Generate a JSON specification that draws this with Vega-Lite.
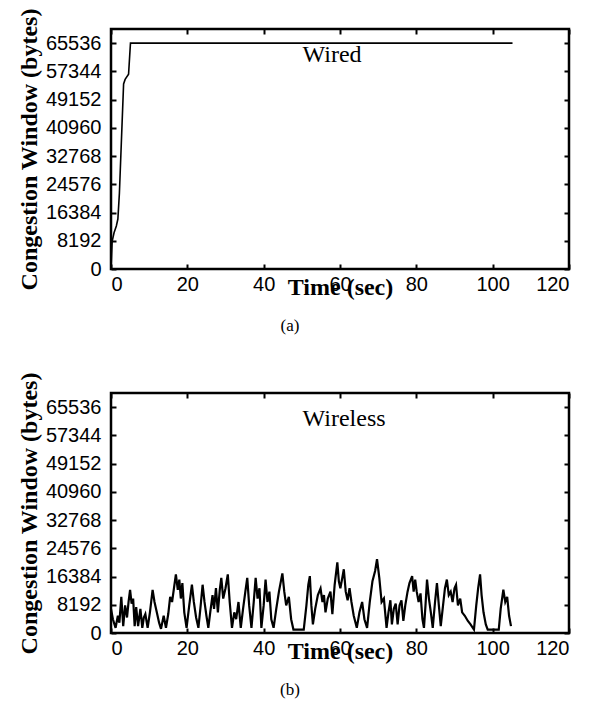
{
  "$schema": "https://vega.github.io/schema/vega-lite/v6.json",
  "background": "white",
  "padding": {"left": 16, "top": 6, "right": 5, "bottom": 5},
  "bounds": "flush",
  "spacing": 124,
  "config": {
    "view": {"stroke": "black", "strokeWidth": 2.5},
    "axis": {
      "domain": false,
      "grid": false,
      "ticks": true,
      "tickColor": "black",
      "tickSize": -5,
      "tickWidth": 2,
      "labelFont": "Liberation Sans",
      "labelFontSize": 20,
      "labelColor": "black",
      "titleFont": "Liberation Serif",
      "titleFontWeight": "bold",
      "titleFontSize": 24,
      "titleColor": "black"
    },
    "title": {"font": "Liberation Serif", "fontSize": 17, "fontWeight": "normal", "color": "black"}
  },
  "datasets": {
    "wired": [
      {"t": 0, "cwnd": 0},
      {"t": 0.3, "cwnd": 8000},
      {"t": 0.8, "cwnd": 10500},
      {"t": 1.4, "cwnd": 12500},
      {"t": 1.8, "cwnd": 14500},
      {"t": 2.2, "cwnd": 22000},
      {"t": 3.3, "cwnd": 53700},
      {"t": 3.7, "cwnd": 55000},
      {"t": 4.6, "cwnd": 56500},
      {"t": 5.1, "cwnd": 65536},
      {"t": 105.2, "cwnd": 65536}
    ],
    "wireless": [
      {"t": 0, "cwnd": 7000}, {"t": 0.5, "cwnd": 4000}, {"t": 1.2, "cwnd": 1500}, {"t": 1.8, "cwnd": 5000},
      {"t": 2.2, "cwnd": 3000}, {"t": 2.7, "cwnd": 10500}, {"t": 3.2, "cwnd": 2000}, {"t": 3.7, "cwnd": 8000},
      {"t": 4.2, "cwnd": 4500}, {"t": 4.6, "cwnd": 9000}, {"t": 5.0, "cwnd": 12500}, {"t": 5.4, "cwnd": 8500},
      {"t": 5.8, "cwnd": 10000}, {"t": 6.2, "cwnd": 2000}, {"t": 6.6, "cwnd": 7500}, {"t": 7.1, "cwnd": 2000},
      {"t": 7.7, "cwnd": 7000}, {"t": 8.2, "cwnd": 1500}, {"t": 8.6, "cwnd": 4500}, {"t": 9.0, "cwnd": 5500},
      {"t": 9.6, "cwnd": 1500}, {"t": 10.2, "cwnd": 6000}, {"t": 10.9, "cwnd": 12500}, {"t": 11.4, "cwnd": 9000},
      {"t": 12.0, "cwnd": 6000}, {"t": 12.6, "cwnd": 3000}, {"t": 13.1, "cwnd": 1200}, {"t": 13.8, "cwnd": 5000},
      {"t": 14.4, "cwnd": 1500}, {"t": 15.0, "cwnd": 5500}, {"t": 15.5, "cwnd": 10500}, {"t": 16.0, "cwnd": 9000},
      {"t": 16.5, "cwnd": 13000}, {"t": 17.0, "cwnd": 17000}, {"t": 17.5, "cwnd": 12500}, {"t": 17.9, "cwnd": 15500},
      {"t": 18.3, "cwnd": 10000}, {"t": 18.7, "cwnd": 14500}, {"t": 19.2, "cwnd": 6000}, {"t": 19.8, "cwnd": 1500},
      {"t": 20.5, "cwnd": 8000}, {"t": 21.2, "cwnd": 14000}, {"t": 21.7, "cwnd": 9000}, {"t": 22.3, "cwnd": 4500},
      {"t": 22.9, "cwnd": 1500}, {"t": 23.5, "cwnd": 8000}, {"t": 24.0, "cwnd": 14000}, {"t": 24.5, "cwnd": 9000},
      {"t": 25.0, "cwnd": 5000}, {"t": 25.5, "cwnd": 1500}, {"t": 26.0, "cwnd": 6000}, {"t": 26.6, "cwnd": 11000},
      {"t": 27.0, "cwnd": 7000}, {"t": 27.5, "cwnd": 13000}, {"t": 28.0, "cwnd": 6000}, {"t": 28.5, "cwnd": 12500},
      {"t": 28.9, "cwnd": 16000}, {"t": 29.4, "cwnd": 10000}, {"t": 30.0, "cwnd": 13000}, {"t": 30.6, "cwnd": 17000},
      {"t": 31.1, "cwnd": 9000}, {"t": 31.7, "cwnd": 1500}, {"t": 32.3, "cwnd": 6000}, {"t": 32.8, "cwnd": 4000},
      {"t": 33.4, "cwnd": 9000}, {"t": 34.0, "cwnd": 1500}, {"t": 34.6, "cwnd": 7000}, {"t": 35.2, "cwnd": 12000},
      {"t": 35.7, "cwnd": 16000}, {"t": 36.2, "cwnd": 8000}, {"t": 36.8, "cwnd": 1500}, {"t": 37.4, "cwnd": 9000},
      {"t": 37.9, "cwnd": 16000}, {"t": 38.4, "cwnd": 10000}, {"t": 38.9, "cwnd": 13000}, {"t": 39.4, "cwnd": 1500},
      {"t": 40.0, "cwnd": 8000}, {"t": 40.5, "cwnd": 15500}, {"t": 41.0, "cwnd": 9000}, {"t": 41.5, "cwnd": 12000},
      {"t": 42.0, "cwnd": 4000}, {"t": 42.6, "cwnd": 1500}, {"t": 43.3, "cwnd": 7000}, {"t": 44.0, "cwnd": 12000},
      {"t": 44.9, "cwnd": 17300}, {"t": 45.4, "cwnd": 12000}, {"t": 45.9, "cwnd": 8000}, {"t": 46.6, "cwnd": 10500},
      {"t": 47.2, "cwnd": 4000}, {"t": 47.8, "cwnd": 1000}, {"t": 50.5, "cwnd": 1000}, {"t": 51.2, "cwnd": 8000},
      {"t": 51.7, "cwnd": 14000}, {"t": 52.1, "cwnd": 16500}, {"t": 52.5, "cwnd": 8000}, {"t": 52.9, "cwnd": 2500},
      {"t": 53.5, "cwnd": 7000}, {"t": 54.2, "cwnd": 11000}, {"t": 54.9, "cwnd": 12900}, {"t": 55.4, "cwnd": 9000},
      {"t": 55.8, "cwnd": 11000}, {"t": 56.2, "cwnd": 6000}, {"t": 56.8, "cwnd": 10000}, {"t": 57.5, "cwnd": 12000},
      {"t": 58.0, "cwnd": 5500}, {"t": 58.6, "cwnd": 14000}, {"t": 59.3, "cwnd": 20500}, {"t": 59.7, "cwnd": 15000},
      {"t": 60.1, "cwnd": 13000}, {"t": 60.6, "cwnd": 16000}, {"t": 61.0, "cwnd": 18500}, {"t": 61.5, "cwnd": 12000},
      {"t": 62.0, "cwnd": 9500}, {"t": 62.5, "cwnd": 13000}, {"t": 63.0, "cwnd": 9000}, {"t": 63.6, "cwnd": 5000},
      {"t": 64.4, "cwnd": 1500}, {"t": 65.1, "cwnd": 6000}, {"t": 65.8, "cwnd": 9000}, {"t": 66.4, "cwnd": 4000},
      {"t": 67.1, "cwnd": 1500}, {"t": 67.8, "cwnd": 9000}, {"t": 68.5, "cwnd": 15000}, {"t": 69.2, "cwnd": 18000},
      {"t": 69.7, "cwnd": 21400}, {"t": 70.3, "cwnd": 16000}, {"t": 70.9, "cwnd": 9000}, {"t": 71.5, "cwnd": 10000},
      {"t": 72.2, "cwnd": 1500}, {"t": 72.7, "cwnd": 6000}, {"t": 73.2, "cwnd": 9500}, {"t": 73.6, "cwnd": 2500},
      {"t": 74.1, "cwnd": 7000}, {"t": 74.6, "cwnd": 8500}, {"t": 75.1, "cwnd": 2500}, {"t": 75.6, "cwnd": 8000},
      {"t": 76.1, "cwnd": 9500}, {"t": 76.6, "cwnd": 3500}, {"t": 77.1, "cwnd": 8000}, {"t": 77.7, "cwnd": 12000},
      {"t": 78.2, "cwnd": 14500}, {"t": 78.9, "cwnd": 16500}, {"t": 79.3, "cwnd": 12000}, {"t": 79.7, "cwnd": 15500},
      {"t": 80.1, "cwnd": 12000}, {"t": 80.6, "cwnd": 9000}, {"t": 81.1, "cwnd": 11500}, {"t": 81.6, "cwnd": 4000},
      {"t": 82.0, "cwnd": 1500}, {"t": 82.4, "cwnd": 8000}, {"t": 82.8, "cwnd": 15500}, {"t": 83.3, "cwnd": 10000},
      {"t": 83.8, "cwnd": 6000}, {"t": 84.3, "cwnd": 1500}, {"t": 84.9, "cwnd": 9000}, {"t": 85.4, "cwnd": 14500},
      {"t": 85.9, "cwnd": 8000}, {"t": 86.4, "cwnd": 2000}, {"t": 87.0, "cwnd": 8000}, {"t": 87.5, "cwnd": 13000},
      {"t": 88.0, "cwnd": 15500}, {"t": 88.5, "cwnd": 11000}, {"t": 89.0, "cwnd": 12000}, {"t": 89.5, "cwnd": 9000},
      {"t": 90.0, "cwnd": 13000}, {"t": 90.4, "cwnd": 14000}, {"t": 90.9, "cwnd": 8000}, {"t": 91.5, "cwnd": 10000},
      {"t": 92.0, "cwnd": 6000}, {"t": 92.7, "cwnd": 5000}, {"t": 93.5, "cwnd": 3500}, {"t": 94.2, "cwnd": 2500},
      {"t": 95.1, "cwnd": 1000}, {"t": 95.7, "cwnd": 8000}, {"t": 96.2, "cwnd": 13000}, {"t": 96.7, "cwnd": 17000},
      {"t": 97.1, "cwnd": 11000}, {"t": 97.6, "cwnd": 6000}, {"t": 98.2, "cwnd": 2500}, {"t": 98.7, "cwnd": 1000},
      {"t": 101.6, "cwnd": 1000}, {"t": 102.1, "cwnd": 7000}, {"t": 102.8, "cwnd": 12600}, {"t": 103.3, "cwnd": 9000},
      {"t": 103.8, "cwnd": 10500}, {"t": 104.3, "cwnd": 5000}, {"t": 104.8, "cwnd": 2000}
    ],
    "wiredLabel": [{"t": 50.2, "cwnd": 62000, "label": "Wired"}],
    "wirelessLabel": [{"t": 50.2, "cwnd": 62000, "label": "Wireless"}]
  },
  "vconcat": [
    {
      "width": 458,
      "height": 240,
      "title": {"text": "(a)", "orient": "bottom", "dx": -50, "offset": 19},
      "resolve": {"axis": {"x": "independent", "y": "independent"}},
      "layer": [
        {
          "data": {"name": "wired"},
          "mark": {"type": "line", "color": "black", "strokeWidth": 1.6},
          "encoding": {
            "x": {"field": "t", "type": "quantitative", "scale": {"domain": [0, 120], "nice": false},
                  "axis": {"values": [0, 20, 40, 60, 80, 100, 120], "title": "Time (sec)", "labelPadding": 10, "titlePadding": -19}},
            "y": {"field": "cwnd", "type": "quantitative", "scale": {"domain": [0, 69632], "nice": false},
                  "axis": {"values": [0, 8192, 16384, 24576, 32768, 40960, 49152, 57344, 65536], "format": "d", "title": "Congestion Window (bytes)", "labelPadding": 15, "titlePadding": 4}}
          }
        },
        {
          "data": {"name": "wiredLabel"},
          "mark": {"type": "text", "font": "Liberation Serif", "fontSize": 24, "align": "left", "baseline": "middle", "color": "black"},
          "encoding": {
            "x": {"field": "t", "type": "quantitative", "axis": {"orient": "top", "values": [0, 20, 40, 60, 80, 100, 120], "labels": false, "title": null}},
            "y": {"field": "cwnd", "type": "quantitative", "axis": {"orient": "right", "values": [0, 8192, 16384, 24576, 32768, 40960, 49152, 57344, 65536], "labels": false, "title": null}},
            "text": {"field": "label"}
          }
        }
      ]
    },
    {
      "width": 458,
      "height": 240,
      "title": {"text": "(b)", "orient": "bottom", "dx": -50, "offset": 19},
      "resolve": {"axis": {"x": "independent", "y": "independent"}},
      "layer": [
        {
          "data": {"name": "wireless"},
          "mark": {"type": "line", "color": "black", "strokeWidth": 2.2},
          "encoding": {
            "x": {"field": "t", "type": "quantitative", "scale": {"domain": [0, 120], "nice": false},
                  "axis": {"values": [0, 20, 40, 60, 80, 100, 120], "title": "Time (sec)", "labelPadding": 10, "titlePadding": -19}},
            "y": {"field": "cwnd", "type": "quantitative", "scale": {"domain": [0, 69632], "nice": false},
                  "axis": {"values": [0, 8192, 16384, 24576, 32768, 40960, 49152, 57344, 65536], "format": "d", "title": "Congestion Window (bytes)", "labelPadding": 15, "titlePadding": 4}}
          }
        },
        {
          "data": {"name": "wirelessLabel"},
          "mark": {"type": "text", "font": "Liberation Serif", "fontSize": 24, "align": "left", "baseline": "middle", "color": "black"},
          "encoding": {
            "x": {"field": "t", "type": "quantitative", "axis": {"orient": "top", "values": [0, 20, 40, 60, 80, 100, 120], "labels": false, "title": null}},
            "y": {"field": "cwnd", "type": "quantitative", "axis": {"orient": "right", "values": [0, 8192, 16384, 24576, 32768, 40960, 49152, 57344, 65536], "labels": false, "title": null}},
            "text": {"field": "label"}
          }
        }
      ]
    }
  ]
}
